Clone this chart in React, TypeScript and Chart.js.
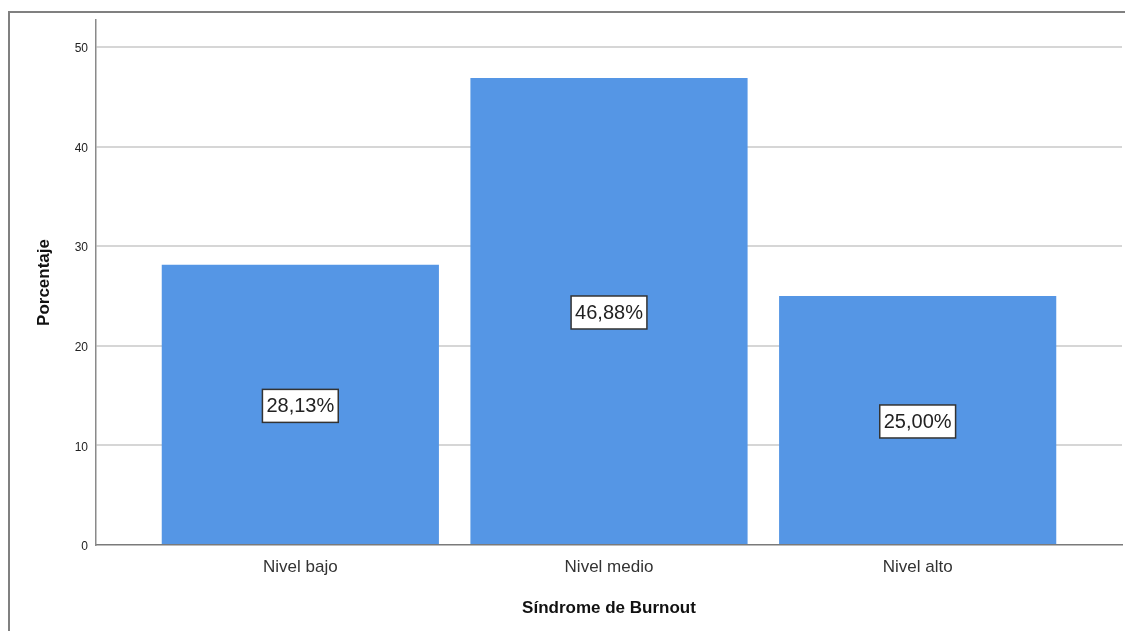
import React, { useEffect, useRef } from "react";
import { Chart, registerables } from "chart.js";

Chart.register(...registerables);

const categories = ["Nivel bajo", "Nivel medio", "Nivel alto"];
const percentages = [28.13, 46.88, 25.0];
const valueLabels = ["28,13%", "46,88%", "25,00%"];
const yTicks = [0, 10, 20, 30, 40, 50];

const FONT = "'Liberation Sans', Arial, sans-serif";

const labelBoxPlugin = {
  id: "labelBoxes",
  afterDatasetsDraw(chart: any) {
    const { ctx, scales } = chart;
    const x = scales.x;
    const y = scales.y;
    ctx.save();
    ctx.font = `20px ${FONT}`;
    ctx.textAlign = "center";
    ctx.textBaseline = "middle";
    percentages.forEach((v, i) => {
      const cx = x.getPixelForValue(i + 1);
      const cy = y.getPixelForValue(v / 2) + 1;
      const text = valueLabels[i];
      const w = ctx.measureText(text).width + 8;
      const h = 33;
      ctx.fillStyle = "#ffffff";
      ctx.fillRect(cx - w / 2, cy - h / 2, w, h);
      ctx.strokeStyle = "#333333";
      ctx.lineWidth = 1.5;
      ctx.strokeRect(cx - w / 2, cy - h / 2, w, h);
      ctx.fillStyle = "#222222";
      ctx.fillText(text, cx, cy + 1);
    });
    ctx.restore();
  },
};

export default function App() {
  const ref = useRef<HTMLCanvasElement | null>(null);

  useEffect(() => {
    if (!ref.current) return;
    const chart = new Chart(ref.current, {
      type: "bar",
      data: {
        datasets: [
          {
            data: percentages.map((v, i) => ({ x: i + 1, y: v })),
            backgroundColor: "#5596E5",
            borderWidth: 0,
            categoryPercentage: 1,
            barPercentage: 0.898,
          },
        ],
      },
      plugins: [labelBoxPlugin],
      options: {
        animation: false,
        responsive: false,
        maintainAspectRatio: false,
        layout: { padding: { left: 0, top: 20, right: 3, bottom: 0 } },
        plugins: {
          legend: { display: false },
          tooltip: { enabled: false },
        },
        scales: {
          x: {
            type: "linear",
            offset: false,
            min: 0.338,
            max: 3.662,
            afterBuildTicks: (s: any) => {
              s.ticks = categories.map((_, i) => ({ value: i + 1 }));
            },
            afterFit: (s: any) => {
              s.height = 86;
            },
            grid: { display: false, drawTicks: false },
            border: { display: true, color: "#7a7a7a", width: 1.5 },
            ticks: {
              padding: 12,
              color: "#333333",
              font: { family: FONT, size: 17 },
              callback: (v: any) => categories[Number(v) - 1] ?? "",
              maxRotation: 0,
              autoSkip: false,
            },
            title: {
              display: true,
              text: "Síndrome de Burnout",
              color: "#111111",
              font: { family: FONT, size: 17, weight: "bold" },
              padding: { top: 0, bottom: 12 },
            },
          },
          y: {
            type: "linear",
            min: 0,
            max: 52.7,
            afterBuildTicks: (s: any) => {
              s.ticks = yTicks.map((v) => ({ value: v }));
            },
            afterFit: (s: any) => {
              s.width = 96;
            },
            grid: {
              color: (c: any) => (c.tick && c.tick.value === 0 ? "rgba(0,0,0,0)" : "#d6d6d6"),
              lineWidth: 2,
              drawTicks: false,
            },
            border: { display: true, color: "#8a8a8a", width: 1.5 },
            ticks: {
              padding: 8,
              labelOffset: 2,
              color: "#222222",
              font: { family: FONT, size: 12 },
              includeBounds: false,
            },
            title: {
              display: true,
              text: "Porcentaje",
              color: "#111111",
              font: { family: FONT, size: 17, weight: "bold" },
              padding: { top: 34, bottom: 0 },
            },
          },
        },
      },
    } as any);
    return () => chart.destroy();
  }, []);

  return (
    <div
      style={{
        position: "fixed",
        left: 0,
        top: 0,
        width: 1125,
        height: 631,
        overflow: "hidden",
        background: "#ffffff",
      }}
    >
      <div
        style={{
          position: "absolute",
          left: 8,
          top: 11,
          width: 1140,
          height: 660,
          border: "2px solid #808080",
          boxSizing: "border-box",
        }}
      />
      <canvas
        ref={ref}
        width={1125}
        height={631}
        style={{ position: "absolute", left: 0, top: 0, width: 1125, height: 631 }}
      />
    </div>
  );
}
